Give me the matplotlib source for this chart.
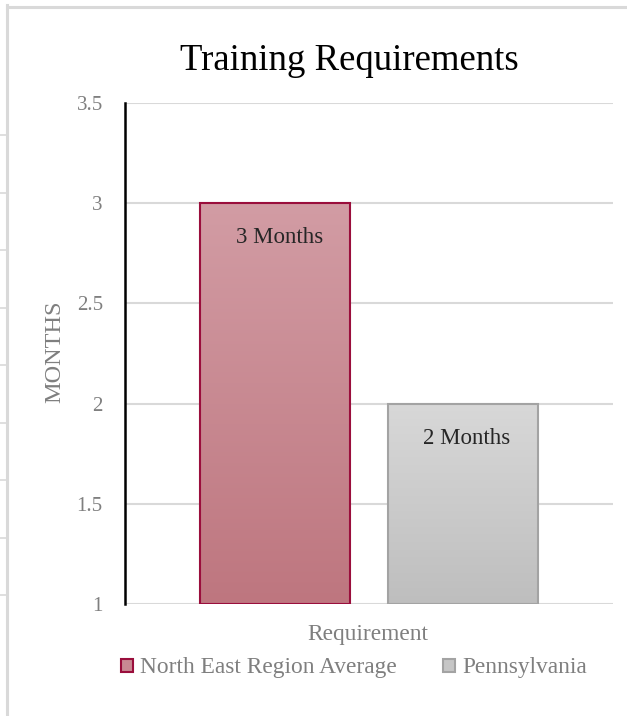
import numpy as np
import matplotlib
matplotlib.use('Agg')
import matplotlib.pyplot as plt
from matplotlib.patches import Patch
from matplotlib.lines import Line2D
from matplotlib.colors import LinearSegmentedColormap

# chart data
series = ['North East Region Average', 'Pennsylvania']
values = [3, 2]
bar_labels = ['3 Months', '2 Months']
y_ticks = [1, 1.5, 2, 2.5, 3, 3.5]
y_tick_labels = ['1', '1.5', '2', '2.5', '3', '3.5']

plt.rcParams['font.family'] = ['Liberation Serif', 'DejaVu Serif']

W, H = 627, 716
fig = plt.figure(figsize=(W / 100, H / 100), dpi=100)


def fx(px):
    return px / W


def fy(py):
    return 1 - py / H


# spreadsheet frame lines around the chart
frame_color = '#D9D9D9'
fig.add_artist(Line2D([fx(7), 1], [fy(6.5), fy(6.5)], color=frame_color, lw=2.2,
                      transform=fig.transFigure))
fig.add_artist(Line2D([fx(7), fx(7)], [fy(5), 0], color=frame_color, lw=2.2,
                      transform=fig.transFigure))
for py in np.arange(135, 600, 57.5):
    fig.add_artist(Line2D([0, fx(7)], [fy(py), fy(py)], color=frame_color, lw=1.2,
                          transform=fig.transFigure))

ax = fig.add_axes([fx(125), fy(604), fx(613) - fx(125), fy(103) - fy(604)])

fills = [('#D29CA4', '#BE767F'), ('#D8D8D8', '#BEBEBE')]
edges = ['#9A0E3C', '#A3A3A3']
offsets = [-0.1925, 0.1925]
width = 0.309
base = 1

for i, (v, off) in enumerate(zip(values, offsets)):
    bar = ax.bar(off, v - base, width, bottom=base, color='none',
                 edgecolor=edges[i], linewidth=1.5, zorder=3)[0]
    cmap = LinearSegmentedColormap.from_list('g%d' % i, [fills[i][1], fills[i][0]])
    grad = np.linspace(0, 1, 256).reshape(-1, 1)
    im = ax.imshow(grad, cmap=cmap, origin='lower', aspect='auto',
                   extent=[off - width / 2, off + width / 2, base, v], zorder=2)
    im.set_clip_path(bar)
    ax.annotate(bar_labels[i], (off, v), xytext=(3, -25), textcoords='offset points',
                ha='center', va='center', fontsize=16.5, color='#262626', zorder=4)

ax.set_xlim(-0.5, 0.5)
ax.set_ylim(1, 3.5)
ax.set_yticks(y_ticks)
ax.set_yticklabels(y_tick_labels)
ax.set_xticks([])
ax.tick_params(axis='y', length=0, pad=16, labelsize=15, labelcolor='#7F7F7F')
ax.grid(axis='y', color='#D9D9D9', lw=1.5, zorder=0)
for s in ['top', 'right', 'bottom']:
    ax.spines[s].set_visible(False)
ax.spines['left'].set_color('black')
ax.spines['left'].set_linewidth(1.8)
ax.spines['left'].set_zorder(5)

fig.text(fx(349.5), fy(70), 'Training Requirements', ha='center', va='baseline',
         fontsize=26.5, color='black')
fig.text(fx(55), fy(352), 'MONTHS', rotation=90, ha='center', va='center',
         fontsize=17.5, color='#7F7F7F')
fig.text(fx(368), fy(640), 'Requirement', ha='center', va='baseline',
         fontsize=16.8, color='#7F7F7F')

handles = [Patch(facecolor='#C98993', edgecolor=edges[0], lw=1.5),
           Patch(facecolor='#C6C6C6', edgecolor=edges[1], lw=1.5)]
fig.legend(handles, series, loc='center', bbox_to_anchor=(fx(354), fy(668)), ncol=2,
           frameon=False, fontsize=16.8, labelcolor='#7F7F7F', handlelength=0.5,
           handleheight=0.5, handletextpad=0.3, columnspacing=2.0, borderpad=0)

fig.savefig('out.png', dpi=100)
